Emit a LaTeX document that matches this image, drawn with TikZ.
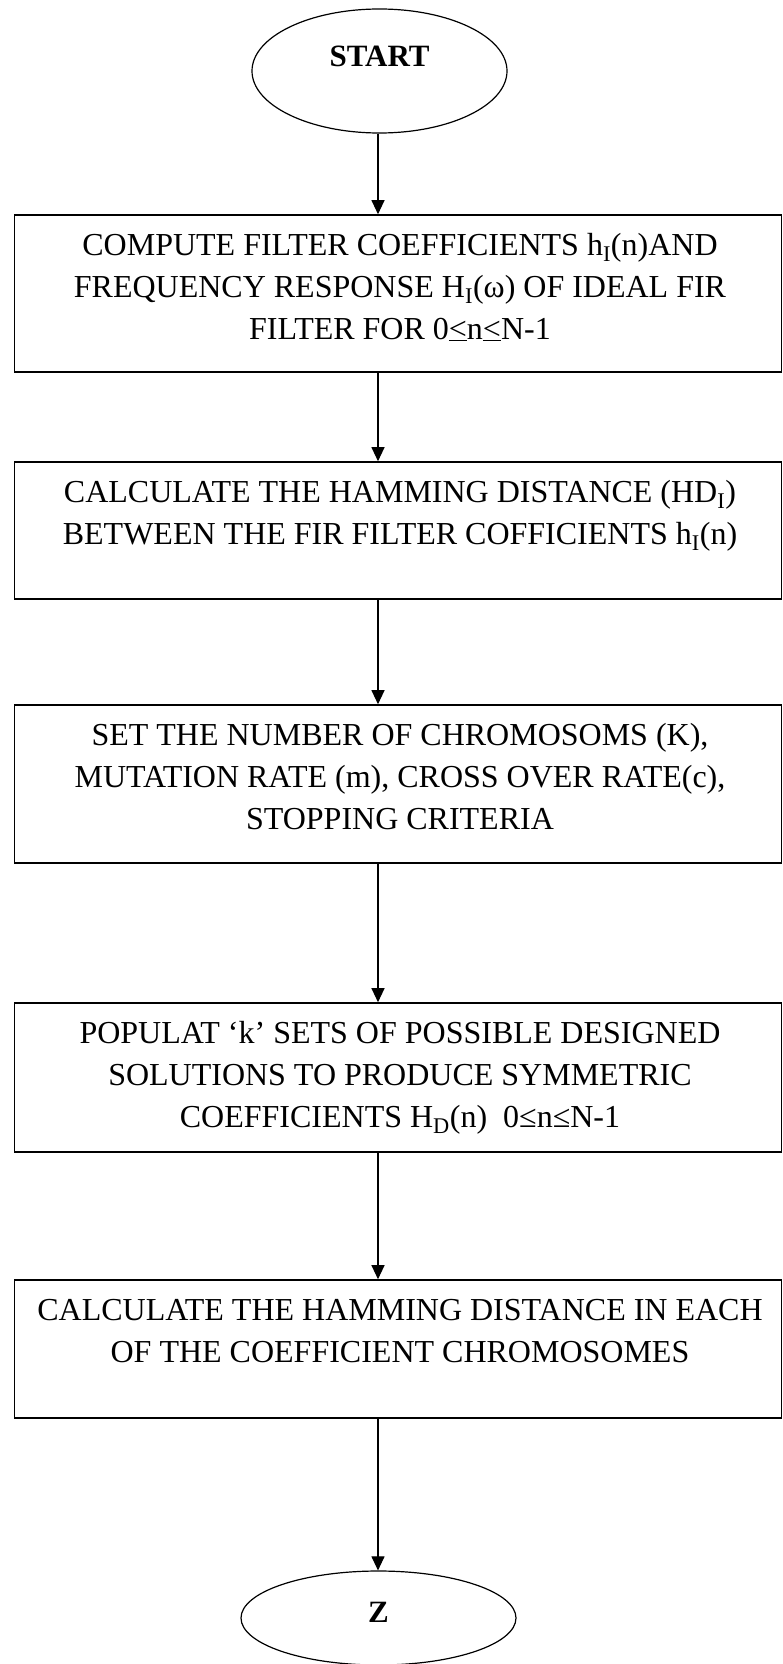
\documentclass[tikz,border=0pt]{standalone}
\usepackage{fontspec}
\setmainfont{Liberation Serif}
\usetikzlibrary{shapes.geometric,arrows.meta}
\newcommand\sbs[1]{\textsubscript{#1}}

\begin{document}
\begin{tikzpicture}[x=1pt,y=-1pt,
  box/.style={draw, line width=1.6pt, inner sep=0, minimum width=767pt},
  term/.style={draw, ellipse, line width=1.2pt, inner sep=0},
  % multi-line texts are placed by the baseline of their last line
  txt/.style={anchor=base, align=center, inner sep=0, font=\fontsize{32}{42}\selectfont},
  ttl/.style={anchor=base, inner sep=0, font=\fontsize{31}{36}\selectfont\bfseries},
  flow/.style={line width=1.1pt, -{Triangle[length=14pt,width=13pt]}}]
\useasboundingbox (0,0) rectangle (783,1664);

% vertical axis carrying all connectors
\coordinate (axis) at (378,0);

% terminals
\node[term, minimum width=255pt, minimum height=124pt] (start) at (379.5,71) {};
\node[ttl] (startlbl) at (379.5,67) {START};
\node[term, minimum width=275pt, minimum height=94pt] (stop) at (378.5,1618) {};
\node[ttl] (stoplbl) at (378.5,1622) {Z};

% process boxes
\node[box, minimum height=157pt] (b1) at (398,293.5) {};
\node[box, minimum height=137pt] (b2) at (398,530.5) {};
\node[box, minimum height=158pt] (b3) at (398,784) {};
\node[box, minimum height=149pt] (b4) at (398,1077.5) {};
\node[box, minimum height=138pt] (b5) at (398,1349) {};

% box texts
\node[txt] (t1) at (400,339) {COMPUTE FILTER COEFFICIENTS h\sbs{I}(n)AND\\
  FREQUENCY RESPONSE H\sbs{I}(ω) OF IDEAL FIR\\
  FILTER FOR 0\underline{<}n\underline{<}N-1};
\node[txt] (t2) at (400,544) {CALCULATE THE HAMMING DISTANCE (HD\sbs{I})\\
  BETWEEN THE FIR FILTER COFFICIENTS h\sbs{I}(n)};
\node[txt] (t3) at (400,829) {SET THE NUMBER OF CHROMOSOMS (K),\\
  MUTATION RATE (m), CROSS OVER RATE(c),\\
  STOPPING CRITERIA};
\node[txt] (t4) at (400,1127) {POPULAT ‘k’ SETS OF POSSIBLE DESIGNED\\
  SOLUTIONS TO PRODUCE SYMMETRIC\\
  COEFFICIENTS H\sbs{D}(n)\ \ 0≤n≤N-1};
\node[txt] (t5) at (400,1362) {CALCULATE THE HAMMING DISTANCE IN EACH\\
  OF THE COEFFICIENT CHROMOSOMES};

% connectors
\draw[flow] (start.south -| axis) -- (b1.north -| axis);
\draw[flow] (b1.south -| axis) -- (b2.north -| axis);
\draw[flow] (b2.south -| axis) -- (b3.north -| axis);
\draw[flow] (b3.south -| axis) -- (b4.north -| axis);
\draw[flow] (b4.south -| axis) -- (b5.north -| axis);
\draw[flow] (b5.south -| axis) -- (stop.north -| axis);
\end{tikzpicture}
\end{document}
